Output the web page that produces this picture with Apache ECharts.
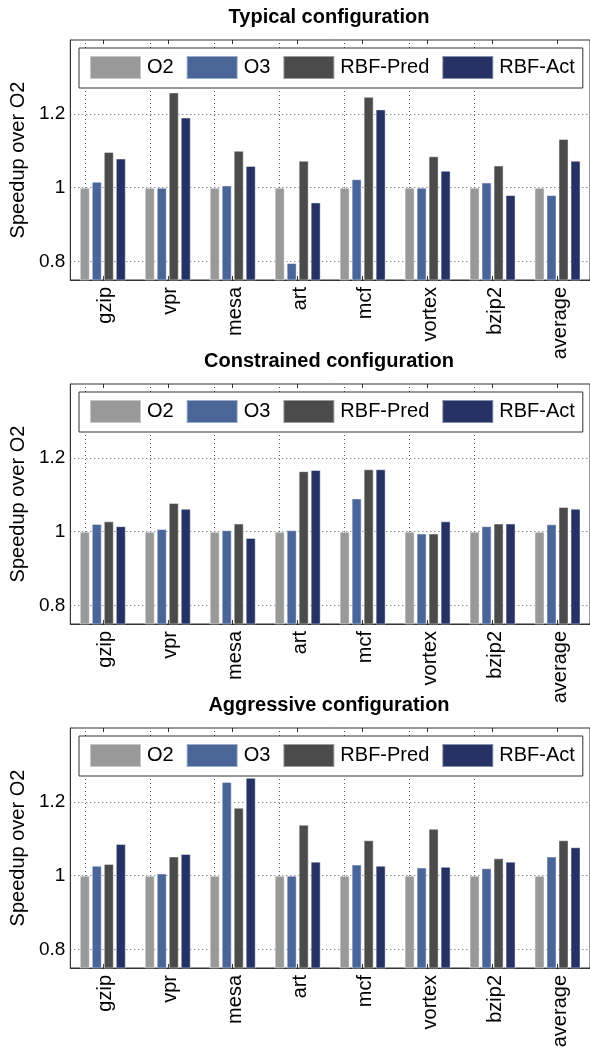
<!DOCTYPE html>
<html>
<head>
<meta charset="utf-8">
<script src="https://cdn.jsdelivr.net/npm/echarts@6/dist/echarts.min.js"></script>
<style>
html,body{margin:0;padding:0;background:#fff;}
#chart{width:590px;height:1051px;}
</style>
</head>
<body>
<div id="chart"></div>
<script>
// ---- data ----
var categories = ['gzip', 'vpr', 'mesa', 'art', 'mcf', 'vortex', 'bzip2', 'average'];
var seriesNames = ['O2', 'O3', 'RBF-Pred', 'RBF-Act'];
var panelTitles = ['Typical configuration', 'Constrained configuration', 'Aggressive configuration'];
var yTickValues = [0.8, 1.0, 1.2];

var typicalO2   = [1, 1, 1, 1, 1, 1, 1, 1];
var typicalO3   = [1.016, 1.0, 1.006, 0.796, 1.023, 1.0, 1.014, 0.98];
var typicalPred = [1.097, 1.258, 1.1, 1.073, 1.246, 1.085, 1.06, 1.132];
var typicalAct  = [1.079, 1.19, 1.059, 0.96, 1.212, 1.046, 0.98, 1.073];

var constrainedO2   = [1, 1, 1, 1, 1, 1, 1, 1];
var constrainedO3   = [1.021, 1.007, 1.004, 1.004, 1.09, 0.995, 1.015, 1.02];
var constrainedPred = [1.028, 1.078, 1.022, 1.164, 1.169, 0.995, 1.022, 1.067];
var constrainedAct  = [1.015, 1.062, 0.983, 1.167, 1.169, 1.028, 1.022, 1.062];

var aggressiveO2   = [1, 1, 1, 1, 1, 1, 1, 1];
var aggressiveO3   = [1.027, 1.006, 1.254, 1.0, 1.03, 1.022, 1.02, 1.052];
var aggressivePred = [1.032, 1.052, 1.184, 1.138, 1.096, 1.127, 1.047, 1.096];
var aggressiveAct  = [1.086, 1.059, 1.265, 1.038, 1.027, 1.024, 1.038, 1.077];

var panelData = [
  [typicalO2, typicalO3, typicalPred, typicalAct],
  [constrainedO2, constrainedO3, constrainedPred, constrainedAct],
  [aggressiveO2, aggressiveO3, aggressivePred, aggressiveAct]
];

// ---- styles ----
var colors = ['#999999', '#4a6598', '#4b4b4b', '#263264'];
var FONT = "'Liberation Sans', Arial, Helvetica, sans-serif";
var gridTops = [40, 384, 728];
var gridLeft = 69;
var gridWidth = 522;
var gridHeight = 240;

function isTick(v) {
  for (var i = 0; i < yTickValues.length; i++) {
    if (Math.abs(v - yTickValues[i]) < 1e-6) return true;
  }
  return false;
}

function buildOption() {
  var option = {
    animation: false,
    backgroundColor: '#fff',
    title: [], grid: [], xAxis: [], yAxis: [], legend: [], series: []
  };
  for (var p = 0; p < 3; p++) {
    var gTop = gridTops[p];
    option.title.push({
      text: panelTitles[p],
      left: gridLeft + gridWidth / 2 - 1,
      textAlign: 'center',
      top: gTop - 33,
      padding: 0,
      textStyle: { fontFamily: FONT, fontSize: 20, fontWeight: 'bold', color: '#000' }
    });
    option.grid.push({
      left: gridLeft, top: gTop, width: gridWidth, height: gridHeight,
      show: true, borderColor: '#333', borderWidth: 1
    });
    option.xAxis.push({
      type: 'category', gridIndex: p, data: categories, position: 'bottom',
      axisLine: { show: true, lineStyle: { color: '#333', width: 1 } },
      axisTick: { show: true, inside: true, length: 4, alignWithLabel: true, lineStyle: { color: '#333' } },
      axisLabel: {
        rotate: 90, margin: 7, fontFamily: FONT, fontSize: 20, color: '#000', interval: 0,
        verticalAlign: 'top', lineHeight: 6
      },
      splitLine: { show: false }
    });
    option.xAxis.push({
      type: 'category', gridIndex: p, data: categories, position: 'top',
      axisLine: { show: false },
      axisTick: { show: true, inside: true, length: 4, alignWithLabel: true, lineStyle: { color: '#333' } },
      axisLabel: { show: false },
      splitLine: { show: false }
    });
    option.yAxis.push({
      type: 'value', gridIndex: p, min: 0.75, max: 1.4, interval: 0.05,
      name: 'Speedup over O2', nameLocation: 'middle', nameGap: 40,
      nameTextStyle: { fontFamily: FONT, fontSize: 20, color: '#000' },
      axisLine: { show: true, lineStyle: { color: '#333', width: 1 } },
      axisTick: { show: false },
      axisLabel: {
        margin: 5, fontFamily: FONT, fontSize: 19, color: '#000',
        formatter: function (v) { return isTick(v) ? String(+v.toFixed(2)) : ''; }
      },
      splitLine: { show: false }
    });
    option.legend.push({
      data: seriesNames,
      icon: 'rect',
      left: 79, top: gTop + 8,
      padding: [7, 8, 8, 10],
      itemWidth: 51, itemHeight: 23, itemGap: 12,
      borderColor: '#333', borderWidth: 1, backgroundColor: '#fff',
      selectedMode: false,
      textStyle: { fontFamily: FONT, fontSize: 20, color: '#000', padding: [5, 0, 0, 1] }
    });
    var gridLineData = [];
    yTickValues.forEach(function (v) { gridLineData.push({ yAxis: v }); });
    categories.forEach(function (c) { gridLineData.push({ xAxis: c }); });
    for (var s = 0; s < 4; s++) {
      var ser = {
        type: 'bar', name: seriesNames[s],
        xAxisIndex: p * 2, yAxisIndex: p,
        data: panelData[p][s],
        barWidth: 10, barGap: '20%', z: 2,
        itemStyle: { color: colors[s], borderColor: 'rgba(255,255,255,0.45)', borderWidth: 1 }
      };
      if (s === 0) {
        ser.markLine = {
          silent: true, symbol: 'none', z: 1,
          label: { show: false },
          lineStyle: { color: '#555', type: [1, 3], width: 1 },
          emphasis: { disabled: true },
          data: gridLineData
        };
      }
      option.series.push(ser);
    }
  }
  return option;
}

var chart = echarts.init(document.getElementById('chart'), null, { renderer: 'canvas' });
chart.setOption(buildOption());
</script>
</body>
</html>
